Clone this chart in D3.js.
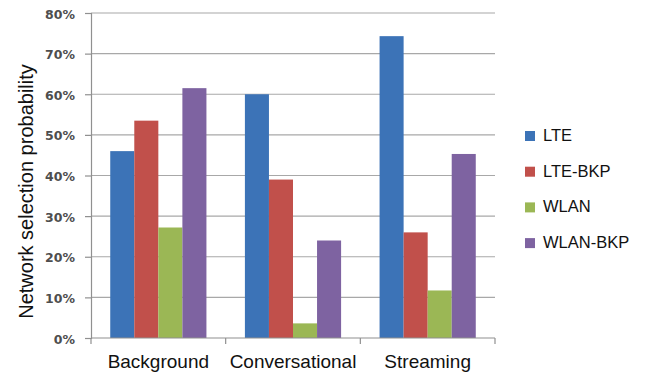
<!DOCTYPE html>
<html>
<head>
<meta charset="utf-8">
<script src="https://cdn.jsdelivr.net/npm/d3@7"></script>
<style>
  html, body { margin: 0; padding: 0; background: #fff; }
  svg { display: block; }
</style>
</head>
<body>
<svg id="chart" width="646" height="372"></svg>
<script>
// Traffic classes along the x axis
const categories = ["Background", "Conversational", "Streaming"];
// Access network options (one bar per option in each class)
const seriesNames = ["LTE", "LTE-BKP", "WLAN", "WLAN-BKP"];
// Selection probability per option, in class order
const lteValues     = [0.46, 0.60, 0.743];
const lteBkpValues  = [0.535, 0.39, 0.26];
const wlanValues    = [0.272, 0.036, 0.117];
const wlanBkpValues = [0.615, 0.24, 0.453];
const yTicks = [0, 0.1, 0.2, 0.3, 0.4, 0.5, 0.6, 0.7, 0.8];
const colors = ["#3c73b7", "#c1504b", "#9bb755", "#7e63a1"];

const seriesValues = [lteValues, lteBkpValues, wlanValues, wlanBkpValues];
const rows = categories.map((c, i) => ({
  category: c,
  values: seriesNames.map((s, j) => ({ series: s, value: seriesValues[j][i] }))
}));

const svg = d3.select("#chart");
const margin = { left: 91, right: 151, top: 13, bottom: 34 };
const W = 646, H = 372;
const plotW = W - margin.left - margin.right;
const plotH = H - margin.top - margin.bottom;

const g = svg.append("g").attr("transform", `translate(${margin.left},${margin.top})`);

const x0 = d3.scaleBand().domain(categories).range([0, plotW]).padding(0);
const x1 = d3.scaleBand().domain(seriesNames).range([0, x0.bandwidth()])
  .paddingInner(0).paddingOuter(0.8);
const y = d3.scaleLinear().domain([0, 0.8]).range([plotH, 0]);
const color = d3.scaleOrdinal().domain(seriesNames).range(colors);

// Horizontal gridlines
g.append("g")
  .selectAll("line")
  .data(yTicks.filter(t => t > 0))
  .join("line")
  .attr("x1", 0).attr("x2", plotW)
  .attr("y1", d => y(d)).attr("y2", d => y(d))
  .attr("stroke", "#a8a8a8").attr("stroke-width", 1.2);

// Bars
g.append("g")
  .selectAll("g")
  .data(rows)
  .join("g")
  .attr("transform", d => `translate(${x0(d.category)},0)`)
  .selectAll("rect")
  .data(d => d.values)
  .join("rect")
  .attr("x", d => x1(d.series))
  .attr("width", x1.bandwidth())
  .attr("y", d => y(d.value))
  .attr("height", d => plotH - y(d.value))
  .attr("fill", d => color(d.series));

// Y axis
const yAxis = g.append("g")
  .call(d3.axisLeft(y).tickValues(yTicks).tickFormat(d3.format(".0%")).tickSize(6).tickPadding(10));
yAxis.select(".domain").attr("stroke", "#909090").attr("stroke-width", 1.2);
yAxis.selectAll(".tick line").attr("stroke", "#909090").attr("stroke-width", 1.2);
yAxis.selectAll(".tick text")
  .attr("font-family", "DejaVu Sans, Verdana, sans-serif")
  .attr("font-weight", "bold")
  .attr("font-size", 12.5)
  .attr("fill", "#4e4e4e")
  .attr("dy", "0.4em");

// X axis: ticks at the class boundaries
const xAxisG = g.append("g").attr("transform", `translate(0,${plotH})`);
xAxisG.append("line")
  .attr("x1", 0).attr("x2", plotW)
  .attr("stroke", "#909090").attr("stroke-width", 1.2);
xAxisG.selectAll("line.bound")
  .data(categories.map(c => x0(c) + x0.bandwidth()).concat([0]))
  .join("line")
  .attr("class", "bound")
  .attr("x1", d => d).attr("x2", d => d)
  .attr("y1", 0).attr("y2", 6)
  .attr("stroke", "#909090").attr("stroke-width", 1.2);
xAxisG.selectAll("text")
  .data(categories)
  .join("text")
  .attr("x", d => x0(d) + x0.bandwidth() / 2)
  .attr("y", 30)
  .attr("text-anchor", "middle")
  .attr("font-family", "Liberation Sans, Arial, sans-serif")
  .attr("font-size", 19)
  .attr("fill", "#111")
  .text(d => d);

// Y axis title
svg.append("text")
  .attr("transform", "translate(33,191.5) rotate(-90)")
  .attr("text-anchor", "middle")
  .attr("font-family", "Liberation Sans, Arial, sans-serif")
  .attr("font-size", 20)
  .attr("fill", "#111")
  .text("Network selection probability");

// Legend
const legend = svg.append("g").attr("transform", "translate(525,131)");
const item = legend.selectAll("g")
  .data(seriesNames)
  .join("g")
  .attr("transform", (d, i) => `translate(0,${i * 35.7})`);
item.append("rect")
  .attr("width", 10).attr("height", 10)
  .attr("fill", d => color(d));
item.append("text")
  .attr("x", 18).attr("y", 10)
  .attr("font-family", "Liberation Sans, Arial, sans-serif")
  .attr("font-size", 16.5)
  .attr("fill", "#111")
  .text(d => d);
</script>
</body>
</html>
